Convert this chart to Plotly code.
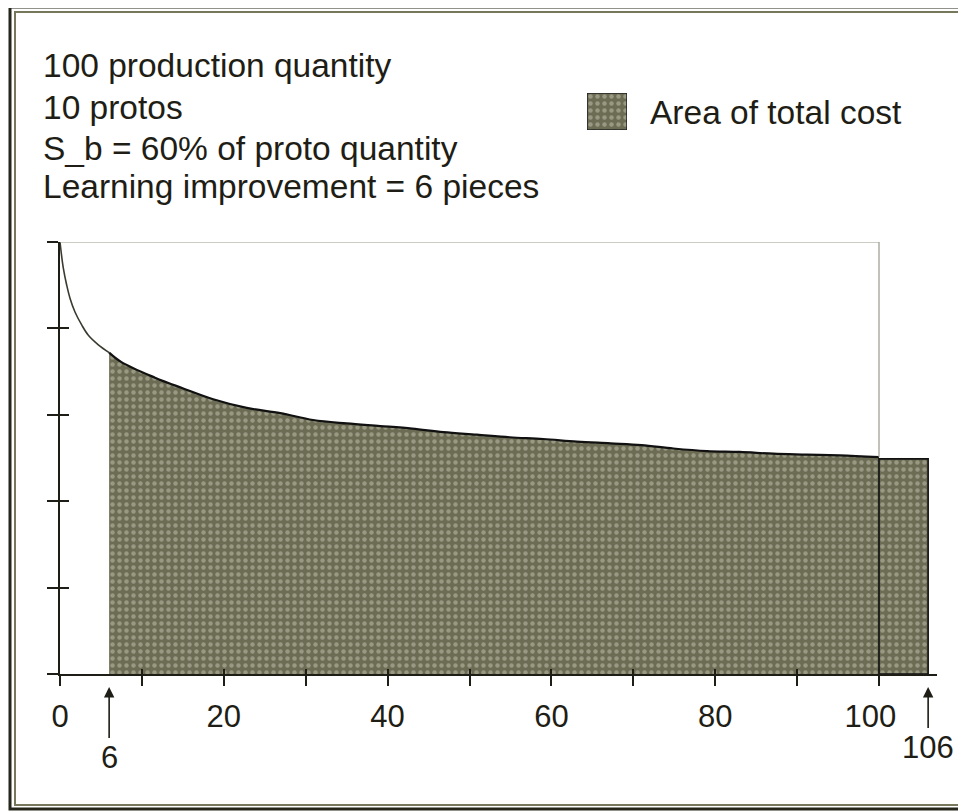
import plotly.graph_objects as go

# ---------------- data ----------------
quantity = [0, 0.4, 0.82, 1.22, 1.83, 2.65, 3.46, 4.68, 6, 7.5, 11.6, 14.9, 18.7,
            22.8, 26.9, 30.9, 35.0, 39.1, 43.0, 46.8, 50.9, 54.9, 59.0, 63.1, 67.2,
            71.0, 74.9, 79.0, 83.0, 87.1, 91.2, 95.2, 100]
unit_cost = [5.0, 4.70, 4.50, 4.35, 4.19, 4.04, 3.92, 3.81, 3.72, 3.61, 3.43, 3.31,
             3.18, 3.08, 3.02, 2.94, 2.90, 2.87, 2.84, 2.80, 2.77, 2.74, 2.72,
             2.69, 2.67, 2.65, 2.61, 2.58, 2.57, 2.55, 2.54, 2.53, 2.51]
learning_start = 6
production_end = 100
tail_end = 106
tail_cost = 2.49
box_top = 5

x_tick_vals = [0, 10, 20, 30, 40, 50, 60, 70, 80, 90, 100]
x_tick_text = ["0", "", "20", "", "40", "", "60", "", "80", "", "100\u00a0\u00a0"]
y_tick_vals = [0, 1, 2, 3, 4, 5]
arrow_x = [learning_start, tail_end]
arrow_text = ["6", "106"]

info_lines = ["100 production quantity", "10 protos",
              "S_b = 60% of proto quantity", "Learning improvement = 6 pieces"]
legend_label = "Area of total cost"

# ---------------- layout helpers (page pixels -> paper) ----------------
OFF = 8                      # page body margin
W, H = 966 - OFF, 812 - OFF  # figure size
L, R, T, B = 60, 937, 242, 674   # plot area in page pixels
UNIT_X = 8.19                # pixels per quantity unit
FONT = "Liberation Sans, Arial, sans-serif"
INK = "#1e1e16"
FILL_BG = "#6c6c54"
FILL_FG = "#c6c6b2"
PATTERN = dict(shape=".", bgcolor=FILL_BG, fgcolor=FILL_FG, size=7, solidity=0.32)


def fx(xp):
    return (xp - OFF) / W


def fy(yp):
    return 1 - (yp - OFF) / H


pre_x = [q for q in quantity if q <= learning_start]
pre_y = [c for q, c in zip(quantity, unit_cost) if q <= learning_start]
main_x = [q for q in quantity if q >= learning_start]
main_y = [c for q, c in zip(quantity, unit_cost) if q >= learning_start]

fig = go.Figure()

# shaded area of total cost (6 .. 100)
fig.add_trace(go.Scatter(
    x=main_x, y=main_y, mode="lines", fill="tozeroy", line_shape="spline",
    fillcolor=FILL_BG, fillpattern=PATTERN,
    line=dict(color="#111111", width=2.2), showlegend=False, hoverinfo="skip"))

# tail block 100 .. 106
fig.add_trace(go.Scatter(
    x=[production_end, production_end, tail_end, tail_end, production_end],
    y=[0, tail_cost, tail_cost, 0, 0], mode="lines", fill="toself",
    fillcolor=FILL_BG, fillpattern=PATTERN,
    line=dict(color="#111111", width=1.6), showlegend=False, hoverinfo="skip"))

# curve before learning start
fig.add_trace(go.Scatter(
    x=pre_x, y=pre_y, mode="lines", line_shape="spline",
    line=dict(color="#3a3a30", width=1.6), showlegend=False, hoverinfo="skip"))

# thin outline box (top and right side)
fig.add_trace(go.Scatter(
    x=[0, production_end, production_end], y=[box_top, box_top, unit_cost[-1]],
    mode="lines", line=dict(color="#9a9a8c", width=1.2),
    showlegend=False, hoverinfo="skip"))

# invisible trace for the overlay axes (inner tick halves)
fig.add_trace(go.Scatter(x=[0], y=[0], xaxis="x2", yaxis="y2", mode="markers",
                         marker=dict(opacity=0), showlegend=False, hoverinfo="skip"))

# legend swatch drawn in its own tiny axes so it can carry the pattern
fig.add_trace(go.Scatter(x=[0, 1, 1, 0, 0], y=[0, 0, 1, 1, 0], xaxis="x3", yaxis="y3",
                         mode="lines", fill="toself", fillcolor=FILL_BG,
                         fillpattern=PATTERN, line=dict(color="#222222", width=1.5),
                         showlegend=False, hoverinfo="skip"))

dom_x = [fx(L), fx(R)]
dom_y = [fy(B), fy(T)]
axis_common = dict(showgrid=False, zeroline=False, tickcolor=INK, tickwidth=2,
                   automargin=False)
hidden = dict(visible=False, showgrid=False, zeroline=False, fixedrange=True,
              automargin=False)
fig.update_layout(
    width=W, height=H,
    margin=dict(l=0, r=0, t=0, b=0, pad=0, autoexpand=False),
    paper_bgcolor="white", plot_bgcolor="white",
    showlegend=False,
    font=dict(family=FONT, color=INK),
    xaxis=dict(domain=dom_x, range=[0, (R - L) / UNIT_X], showline=True,
               linecolor=INK, linewidth=2, anchor="y",
               tickmode="array", tickvals=x_tick_vals, ticktext=x_tick_text,
               ticks="outside", ticklen=10, ticklabelstandoff=4,
               tickfont=dict(size=31, family=FONT, color=INK), **axis_common),
    yaxis=dict(domain=dom_y, range=[0, box_top], showline=True, linecolor=INK,
               linewidth=2, anchor="x",
               tickmode="array", tickvals=y_tick_vals, showticklabels=False,
               ticks="outside", ticklen=11, **axis_common),
    xaxis2=dict(overlaying="x", matches="x", showline=False, tickmode="array",
                tickvals=x_tick_vals, showticklabels=False, ticks="inside",
                ticklen=5, anchor="y2", side="bottom", **axis_common),
    yaxis2=dict(overlaying="y", matches="y", showline=False, tickmode="array",
                tickvals=y_tick_vals, showticklabels=False, ticks="inside",
                ticklen=9, anchor="x2", side="left", **axis_common),
    xaxis3=dict(domain=[fx(587), fx(627)], range=[0, 1], anchor="y3", **hidden),
    yaxis3=dict(domain=[fy(130), fy(93)], range=[0, 1], anchor="x3", **hidden),
)

# info text lines
line_centers = [65, 108, 148, 187]
for txt, yc in zip(info_lines, line_centers):
    fig.add_annotation(text=txt, xref="paper", yref="paper", x=fx(41), y=fy(yc),
                       xanchor="left", yanchor="middle", showarrow=False,
                       font=dict(size=33.5, family=FONT, color=INK))

# legend label
fig.add_annotation(text=legend_label, xref="paper", yref="paper", x=fx(648), y=fy(113),
                   xanchor="left", yanchor="middle", showarrow=False,
                   font=dict(size=33.5, family=FONT, color=INK))

# arrows marking 6 and 106
for xv, txt, dy in zip(arrow_x, arrow_text, [70, 60]):
    fig.add_annotation(x=xv, y=fy(687), xref="x", yref="paper", text=txt,
                       showarrow=True, arrowhead=2, arrowsize=1.3, arrowwidth=1.6,
                       arrowcolor=INK, ax=0, ay=dy,
                       font=dict(size=31, family=FONT, color=INK))

# outer double frame
fig.add_shape(type="rect", xref="paper", yref="paper", layer="above",
              x0=fx(10), x1=fx(990), y0=fy(809), y1=fy(7),
              line=dict(color="#26261c", width=3), fillcolor="rgba(0,0,0,0)")
fig.add_shape(type="rect", xref="paper", yref="paper", layer="above",
              x0=fx(15), x1=fx(985), y0=fy(805), y1=fy(12),
              line=dict(color="#77775c", width=2), fillcolor="rgba(0,0,0,0)")

fig.write_html("out.html")
